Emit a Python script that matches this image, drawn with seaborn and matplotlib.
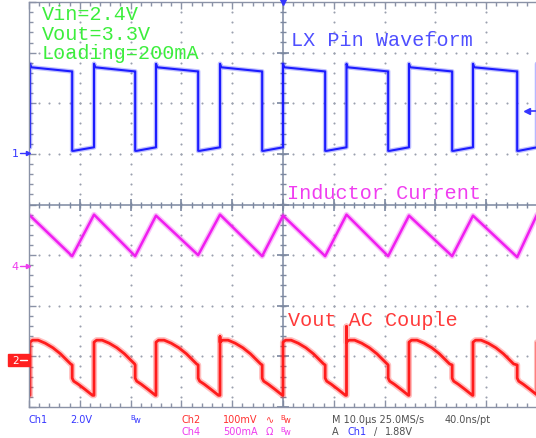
import matplotlib
matplotlib.use("Agg")
import matplotlib.pyplot as plt
import seaborn as sns
import numpy as np
from matplotlib.ticker import MultipleLocator
from matplotlib.lines import Line2D
from matplotlib.patches import Rectangle

# ---------------- values ----------------
# time base 10 us/div, trigger (Ch1 rising edge) at screen centre
rise_us = [-49.8, -37.2, -25.0, -12.4, 0.0, 12.5, 24.8, 37.4, 50.0]
fall_us = [-41.5, -29.1, -16.7, -4.1, 8.3, 20.7, 33.3, 46.1]

# Ch1 : LX pin, 2.0 V/div
ch1_high_v = [3.36, 3.20]        # start / end of the high phase
ch1_low_v = [0.06, 0.20]         # start / end of the low phase
ch1_spike_v = 3.50

# Ch4 : inductor current, 500 mA/div
ch4_peak_a = [0.50, 0.51, 0.50, 0.51, 0.50, 0.51, 0.50, 0.50, 0.51]
ch4_valley_a = [0.10, 0.10, 0.11, 0.10, 0.10, 0.10, 0.10, 0.09]

# Ch2 : Vout AC couple, 100 mV/div
ch2_on_dt_us = [0.0, 0.5, 1.6, 3.0, 4.5, 6.0, 7.2, 8.0]
ch2_on_mv = [33, 37, 37, 31, 22, 10, -2, -10]
ch2_off_dt_us = [0.0, 0.3, 1.2, 2.5, 4.0]
ch2_off_mv = [-38, -44, -50, -60, -72]
ch2_spike_mv = [None, None, None, 44, None, 64, None, None, None]

# channel settings (units per division, ground marker position in divisions)
ch1_scale, ch1_gnd = 2.0, 1.03
ch4_scale, ch4_gnd = 0.5, -1.22
ch2_scale, ch2_gnd = 100.0, -3.05

annotations = ["Vin=2.4V", "Vout=3.3V", "Loading=200mA"]
trace_labels = ["LX Pin Waveform", "Inductor Current", "Vout AC Couple"]

# ---------------- build traces from the read values ----------------
t1, v1 = [-50.6], [ch1_low_v[1]]
for i, r in enumerate(rise_us):
    t1 += [r, r, r + 0.25]
    v1 += [ch1_low_v[1], ch1_spike_v, ch1_high_v[0]]
    if i < len(fall_us):
        f = fall_us[i]
        t1 += [f - 0.2, f, f, f + 0.3]
        v1 += [ch1_high_v[1], ch1_high_v[1], ch1_low_v[0], ch1_low_v[0]]
    else:
        t1 += [r + 3]
        v1 += [ch1_high_v[0]]

t4, a4 = [-50.6], [0.46]
for i, r in enumerate(rise_us):
    t4.append(r); a4.append(ch4_peak_a[i])
    if i < len(fall_us):
        t4.append(fall_us[i]); a4.append(ch4_valley_a[i])

t2, m2 = [-50.6], [ch2_off_mv[-1]]
for i, r in enumerate(rise_us):
    f = fall_us[i] if i < len(fall_us) else r + 8.3
    t2.append(r); m2.append(ch2_off_mv[-1])
    if ch2_spike_mv[i] is not None:
        t2 += [r, r]; m2 += [ch2_spike_mv[i], ch2_on_mv[0]]
    for dt, mv in zip(ch2_on_dt_us, ch2_on_mv):
        if r + dt < f:
            t2.append(r + dt); m2.append(mv)
    t2.append(f); m2.append(ch2_on_mv[-1] - 2)
    for dt, mv in zip(ch2_off_dt_us, ch2_off_mv):
        t2.append(f + dt); m2.append(mv)

pos1 = [ch1_gnd + v / ch1_scale for v in v1]
pos4 = [ch4_gnd + a / ch4_scale for a in a4]
pos2 = [ch2_gnd + m / ch2_scale for m in m2]

# ---------------- figure ----------------
sns.set_theme(style="white")
plt.rcParams['font.family'] = ['DejaVu Sans']
W, H = 536, 439
fig = plt.figure(figsize=(W / 100, H / 100), dpi=100)
fig.patch.set_facecolor('white')

def fx(px):
    return px / W

def fy(py):
    return 1 - py / H

L, R, T, B = 29, 537, 3, 408
ax = fig.add_axes([fx(L), fy(B), (R - L) / W, (B - T) / H])
ax.set_xlim(-50, 50)
ax.set_ylim(-4, 4)
ax.set_facecolor('white')

gc = '#8a92a6'
for s in ['left', 'bottom', 'top']:
    ax.spines[s].set_color(gc)
    ax.spines[s].set_linewidth(1.0)
ax.spines['right'].set_visible(False)
ax.xaxis.set_major_locator(MultipleLocator(10))
ax.xaxis.set_minor_locator(MultipleLocator(2))
ax.yaxis.set_major_locator(MultipleLocator(1))
ax.yaxis.set_minor_locator(MultipleLocator(0.2))
ax.tick_params(which='both', direction='in', color=gc, width=1,
               top=True, bottom=True, left=True, right=False,
               labelbottom=False, labelleft=False)
ax.tick_params(which='major', length=5)
ax.tick_params(which='minor', length=3)

# dotted graticule
dc = '#9aa0ae'
ydots = np.arange(-4, 4.01, 0.2)
xdots = np.arange(-50, 50.1, 2)
for k in [-40, -30, -20, -10, 10, 20, 30, 40]:
    ax.plot(np.full(len(ydots), k), ydots, ls='none', marker='o', ms=1.5, mew=0, color=dc)
for j in [-3, -2, -1, 1, 2, 3]:
    ax.plot(xdots, np.full(len(xdots), j), ls='none', marker='o', ms=1.5, mew=0, color=dc)

# centre cross with ticks
cc = '#7c88a0'
ax.axhline(0, color=cc, lw=1.1)
ax.axvline(0, color=cc, lw=1.1)
xmin = np.arange(-50, 50.1, 2)
ax.plot(xmin, np.zeros(len(xmin)), ls='none', marker='|', ms=5, mew=1, color=cc)
ax.plot(np.arange(-50, 50.1, 10), np.zeros(11), ls='none', marker='|', ms=9, mew=1.2, color=cc)
ymin = np.arange(-4, 4.01, 0.2)
ax.plot(np.zeros(len(ymin)), ymin, ls='none', marker='_', ms=5, mew=1, color=cc)
ax.plot(np.zeros(9), np.arange(-4, 4.01, 1), ls='none', marker='_', ms=9, mew=1.2, color=cc)

# traces
def trace(t, p, col, lw):
    sns.lineplot(x=t, y=p, sort=False, estimator=None, color=col, lw=lw * 2.2,
                 alpha=0.28, ax=ax, legend=False)
    sns.lineplot(x=t, y=p, sort=False, estimator=None, color=col, lw=lw,
                 ax=ax, legend=False)

trace(t1, pos1, '#1c1cff', 1.5)
trace(t4, pos4, '#f01ef0', 1.8)
trace(t2, pos2, '#ff1c1c', 2.0)
ax.set_xlim(-50, 50)
ax.set_ylim(-4, 4)
ax.set_xlabel('')
ax.set_ylabel('')

# ---------------- on-screen text ----------------
mono = 'Liberation Mono'
green = '#3cee3c'
for s, yb in zip(annotations, [20, 39.5, 59]):
    fig.text(fx(42), fy(yb), s, family=mono, fontsize=14.5, color=green, va='baseline')
fig.text(fx(291), fy(46), trace_labels[0], family=mono, fontsize=14.5, color='#4f4fff', va='baseline')
fig.text(fx(287), fy(199), trace_labels[1], family=mono, fontsize=14.5, color='#f03cf0', va='baseline')
fig.text(fx(288), fy(326.5), trace_labels[2], family=mono, fontsize=14.5, color='#ff3a3a', va='baseline')

# status line
blue, red, mag, grey = '#3636ff', '#ff3030', '#ee3cee', '#505050'
fs = 7
def st(x, y, s, c, size=fs):
    fig.text(fx(x), fy(y), s, color=c, fontsize=size, va='center', ha='left',
             family=['DejaVu Sans'])

r1, r2 = 420, 432
st(29, r1, 'Ch1', blue); st(70, r1, '2.0V', blue)
st(130, r1 - 2, 'B', blue, 5); st(134, r1 + 1, 'w', blue, 6)
st(182, r1, 'Ch2', red); st(223, r1, '100mV', red); st(266, r1, '\u223f', red)
st(280, r1 - 2, 'B', red, 5); st(284, r1 + 1, 'w', red, 6)
st(332, r1, 'M 10.0\u00b5s 25.0MS/s', grey); st(445, r1, '40.0ns/pt', grey)
st(182, r2, 'Ch4', mag); st(223, r2, '500mA', mag); st(266, r2, '\u03a9', mag)
st(280, r2 - 2, 'B', mag, 5); st(284, r2 + 1, 'w', mag, 6)
st(332, r2, 'A', grey); st(347, r2, 'Ch1', blue); st(374, r2, '/', grey); st(385, r2, '1.88V', grey)

# channel markers
fig.text(fx(15), fy(154), '1', color=blue, fontsize=8, va='center', ha='center')
fig.add_artist(Line2D([fx(20), fx(28)], [fy(154), fy(154)], color=blue, lw=1,
                      marker='>', markevery=[1], ms=3, transform=fig.transFigure))
fig.text(fx(15), fy(267), '4', color=mag, fontsize=8, va='center', ha='center')
fig.add_artist(Line2D([fx(20), fx(28)], [fy(267), fy(267)], color=mag, lw=1,
                      marker='>', markevery=[1], ms=3, transform=fig.transFigure))
fig.add_artist(Rectangle((fx(8), fy(367)), 22 / W, 12 / H, color='#ff2020',
                         transform=fig.transFigure))
fig.text(fx(16), fy(361), '2', color='white', fontsize=7.5, va='center', ha='center')
fig.add_artist(Line2D([fx(20), fx(27)], [fy(361), fy(361)], color='white', lw=1,
                      transform=fig.transFigure))

# trigger markers
fig.add_artist(Line2D([fx(527), fx(536)], [fy(112), fy(112)], color=blue, lw=1.2,
                      marker='<', markevery=[0], ms=4, transform=fig.transFigure))
fig.add_artist(Line2D([fx(283)], [fy(3)], color=blue, marker='v', ms=5,
                      transform=fig.transFigure))

fig.savefig('out.png', dpi=100, facecolor='white')
